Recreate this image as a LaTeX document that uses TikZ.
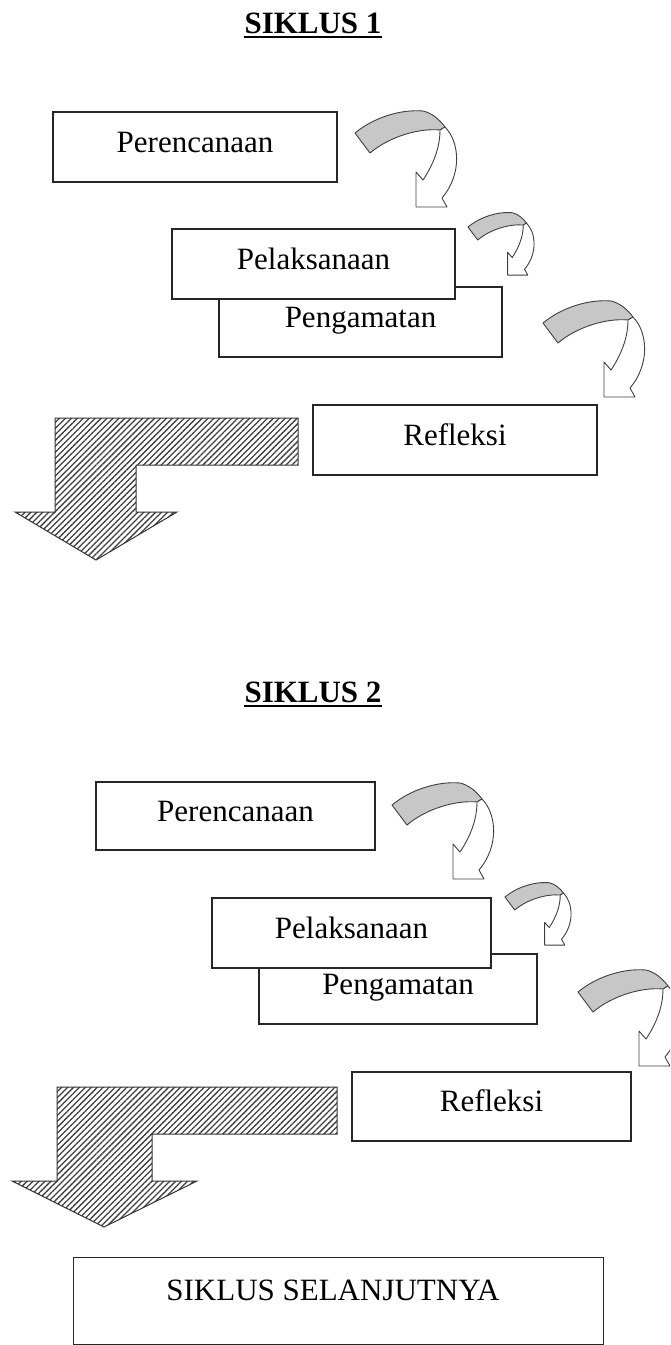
\documentclass[tikz,border=0pt]{standalone}
\usepackage{fontspec}
\setmainfont{Liberation Serif}
\usetikzlibrary{patterns.meta}
\newcommand\boxfont{\fontsize{31}{36}\selectfont}
\tikzset{
  stepbox/.style={draw=black!85, line width=1.3pt, fill=white, inner sep=0pt,
    text height=22pt, text depth=12pt, font=\boxfont, minimum height=70pt},
  titletext/.style={inner sep=0pt, font=\bfseries\boxfont},
  uline/.style={line width=2.4pt, black},
  hatcharrow/.style={draw=black!80, line width=1pt,
    pattern={Lines[angle=45,distance=4.2pt,line width=1.3pt]}, pattern color=black!75},
  bandfill/.style={draw=black!75, line width=0.9pt, fill=black!22, line join=round},
  shaftfill/.style={draw=black!75, line width=0.9pt, fill=white, line join=round},
  curvarrow/.pic={
    \path[bandfill] (0,0) .. controls (18,-15) and (45,-24) .. (68,-22)
      .. controls (77,-20) and (85,-13) .. (90,-6) -- (85,-3)
      .. controls (65,-5) and (35,3) .. (15,20) -- cycle;
    \path[shaftfill] (90,-6) .. controls (104,8) and (108,40) .. (87,65)
      -- (92,74) -- (61,74) -- (61,39) -- (68,47)
      .. controls (78,32) and (85,15) .. (85,-3) -- cycle;
  }
}
\begin{document}
\begin{tikzpicture}[x=1pt,y=-1pt]
\useasboundingbox (0,0) rectangle (670,1345);
\clip (0,0) rectangle (670,1345);
\fill[white] (0,0) rectangle (670,1345);

% ---------------- SIKLUS 1 ----------------
\node[titletext, anchor=base] (t1) at (313,33) {SIKLUS 1};
\draw[uline] ([yshift=-4pt]t1.base west) -- ([yshift=-4pt]t1.base east);

\node[stepbox, minimum width=284pt] (p1) at (195,147) {Perencanaan};
\node[stepbox, minimum width=283pt] (g1) at (360.5,322) {Pengamatan};
\node[stepbox, minimum width=283pt] (l1) at (313.5,264) {Pelaksanaan};
\node[stepbox, minimum width=284pt] (r1) at (455,440) {Refleksi};

\pic at (355,133) {curvarrow};
\pic[scale=0.65] at (468,227) {curvarrow};
\pic at (543,323) {curvarrow};

\draw[hatcharrow] (298,418) -- (55,418) -- (55,512) -- (15,512) -- (96,560)
  -- (177,512) -- (136,512) -- (136,465) -- (298,465) -- cycle;

% ---------------- SIKLUS 2 ----------------
\node[titletext, anchor=base] (t2) at (313,702) {SIKLUS 2};
\draw[uline] ([yshift=-4pt]t2.base west) -- ([yshift=-4pt]t2.base east);

\node[stepbox, minimum width=279pt, minimum height=68pt] (p2) at (235.5,816) {Perencanaan};
\node[stepbox, minimum width=278pt] (g2) at (398,989) {Pengamatan};
\node[stepbox, minimum width=279pt] (l2) at (351.5,933) {Pelaksanaan};
\node[stepbox, minimum width=279pt, minimum height=69pt] (r2) at (491.5,1106.5) {Refleksi};

\pic at (392,805) {curvarrow};
\pic[scale=0.65] at (505,897) {curvarrow};
\pic at (578,992) {curvarrow};

\draw[hatcharrow] (337,1087) -- (57,1087) -- (57,1181) -- (12,1181) -- (104,1227)
  -- (197,1181) -- (152,1181) -- (152,1134) -- (337,1134) -- cycle;

\node[draw=black!85, line width=1.3pt, inner sep=0pt, minimum width=530pt,
  minimum height=87pt, anchor=north west] (next) at (73,1257) {};
\node[inner sep=0pt, font=\boxfont, anchor=base] (nexttxt) at (333,1300) {SIKLUS SELANJUTNYA};
\end{tikzpicture}
\end{document}
